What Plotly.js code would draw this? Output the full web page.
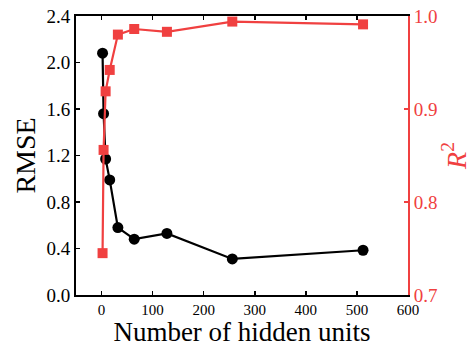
<!DOCTYPE html>
<html>
<head>
<meta charset="utf-8">
<script src="https://cdn.plot.ly/plotly-3.0.1.min.js"></script>
<style>html,body{margin:0;padding:0;background:#fff;}#chart{width:473px;height:347px;}</style>
</head>
<body>
<div id="chart"></div>
<script>
const hiddenUnits = [2, 4, 8, 16, 32, 64, 128, 256, 512];
const rmse = [2.08, 1.56, 1.17, 0.99, 0.58, 0.48, 0.53, 0.31, 0.385];
const r2 = [0.745, 0.856, 0.919, 0.942, 0.980, 0.986, 0.983, 0.994, 0.991];
const xTicks = [0, 100, 200, 300, 400, 500, 600];
const yTicks = [0.0, 0.4, 0.8, 1.2, 1.6, 2.0, 2.4];
const y2Ticks = [0.7, 0.8, 0.9, 1.0];

const RED = 'rgb(240,64,64)';
const FONT = 'Liberation Serif';

const traces = [
  {
    x: hiddenUnits, y: rmse, type: 'scatter', mode: 'lines+markers',
    line: {color: '#000', width: 2.2},
    marker: {color: '#000', size: 11, symbol: 'circle'},
    yaxis: 'y', name: 'RMSE'
  },
  {
    x: hiddenUnits, y: r2, type: 'scatter', mode: 'lines+markers',
    line: {color: RED, width: 2.2},
    marker: {color: RED, size: 10, symbol: 'square'},
    yaxis: 'y2', name: 'R2'
  }
];

const layout = {
  width: 473, height: 347,
  margin: {l: 76, r: 65, t: 16, b: 52},
  paper_bgcolor: '#fff', plot_bgcolor: '#fff',
  showlegend: false,
  font: {family: FONT, color: '#000'},
  xaxis: {
    range: [-50, 600], tickvals: xTicks, ticktext: xTicks.map(String),
    ticks: 'inside', ticklen: 4, tickwidth: 1.5, tickcolor: '#000',
    showline: true, linecolor: '#000', linewidth: 2, mirror: 'ticks',
    showgrid: false, zeroline: false,
    tickfont: {size: 15, family: FONT, color: '#000'},
    title: {text: 'Number of hidden units', font: {size: 27, family: FONT, color: '#000'}, standoff: 4}
  },
  yaxis: {
    range: [0, 2.4], tickvals: yTicks, ticktext: yTicks.map(v => v.toFixed(1)),
    ticks: 'inside', ticklen: 4, tickwidth: 1.5, tickcolor: '#000',
    showline: true, linecolor: '#000', linewidth: 2,
    showgrid: false, zeroline: false,
    tickfont: {size: 19, family: FONT, color: '#000'},
    title: {text: 'RMSE', font: {size: 28, family: FONT, color: '#000'}, standoff: 3}
  },
  yaxis2: {
    overlaying: 'y', side: 'right', anchor: 'x',
    range: [0.7, 1.0], tickvals: y2Ticks, ticktext: y2Ticks.map(v => v.toFixed(1)),
    ticks: 'inside', ticklen: 4, tickwidth: 1.5, tickcolor: RED,
    showline: true, linecolor: RED, linewidth: 2,
    showgrid: false, zeroline: false,
    tickfont: {size: 19, family: FONT, color: RED},
    title: {text: '<i>R</i><sup>2</sup>', font: {size: 28, family: FONT, color: RED}, standoff: 10}
  }
};

Plotly.newPlot('chart', traces, layout, {displayModeBar: false, staticPlot: true});
</script>
</body>
</html>
